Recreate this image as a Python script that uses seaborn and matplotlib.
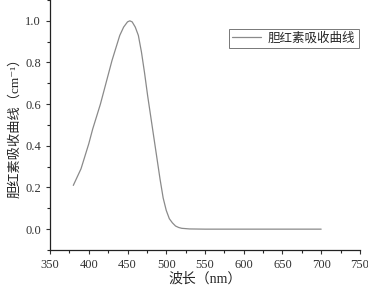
import numpy as np
import pandas as pd
import matplotlib
matplotlib.use("Agg")
import matplotlib.pyplot as plt
import seaborn as sns
from matplotlib.ticker import MultipleLocator

sns.set_style("ticks")
plt.rcParams['font.family'] = ['Liberation Serif', 'Noto Sans CJK SC', 'DejaVu Serif']

# Данные кривой поглощения билирубина (оценка по картинке)
wavelength = [380, 385, 390, 395, 400, 405, 410, 415, 420, 425, 430, 435, 440, 445, 450,
              453, 456, 460, 464, 468, 472, 476, 480, 484, 488, 492, 496, 500, 504,
              508, 512, 516, 520, 530, 550, 600, 650, 700]
absorbance = [0.21, 0.25, 0.29, 0.35, 0.41, 0.48, 0.54, 0.60, 0.67, 0.74, 0.81, 0.87, 0.93, 0.97, 0.995,
              1.0, 0.995, 0.97, 0.93, 0.85, 0.75, 0.64, 0.54, 0.44, 0.34, 0.24, 0.15, 0.09, 0.05,
              0.03, 0.015, 0.008, 0.004, 0.001, 0.0, 0.0, 0.0, 0.0]
legend_label = '胆红素吸收曲线'

df = pd.DataFrame({'wavelength': wavelength, 'absorbance': absorbance})

fig = plt.figure(figsize=(3.68, 2.87), dpi=100)
ax = fig.add_axes([0.136, 0.129, 0.842, 0.871])
sns.lineplot(data=df, x='wavelength', y='absorbance', ax=ax, color='#8a8a8a',
             linewidth=0.9, label=legend_label)

ax.set_xlim(350, 750)
ax.set_ylim(-0.1, 1.1)
ax.xaxis.set_major_locator(MultipleLocator(50))
ax.xaxis.set_minor_locator(MultipleLocator(25))
ax.yaxis.set_major_locator(MultipleLocator(0.2))
ax.yaxis.set_minor_locator(MultipleLocator(0.1))
ax.yaxis.set_major_formatter(plt.FuncFormatter(lambda v, p: f'{v:.1f}'))
ax.tick_params(which='major', length=3, width=0.8, labelsize=9, colors='#333333')
ax.tick_params(which='minor', length=2, width=0.8)
sns.despine(ax=ax)
for s in ['left', 'bottom']:
    ax.spines[s].set_linewidth(0.9)
    ax.spines[s].set_color('#222222')

ax.set_xlabel('波长（nm）', fontsize=10, labelpad=1)
ax.set_ylabel('胆红素吸收曲线（cm⁻¹）', fontsize=9.5, labelpad=3)

leg = ax.legend(loc='upper right', bbox_to_anchor=(1.0, 0.89), fontsize=9,
                frameon=True, fancybox=False, handlelength=2.3, borderpad=0.25,
                handletextpad=0.6, borderaxespad=0.1)
leg.get_frame().set_edgecolor('#555555')
leg.get_frame().set_linewidth(0.7)

plt.savefig('out.png', dpi=100)
